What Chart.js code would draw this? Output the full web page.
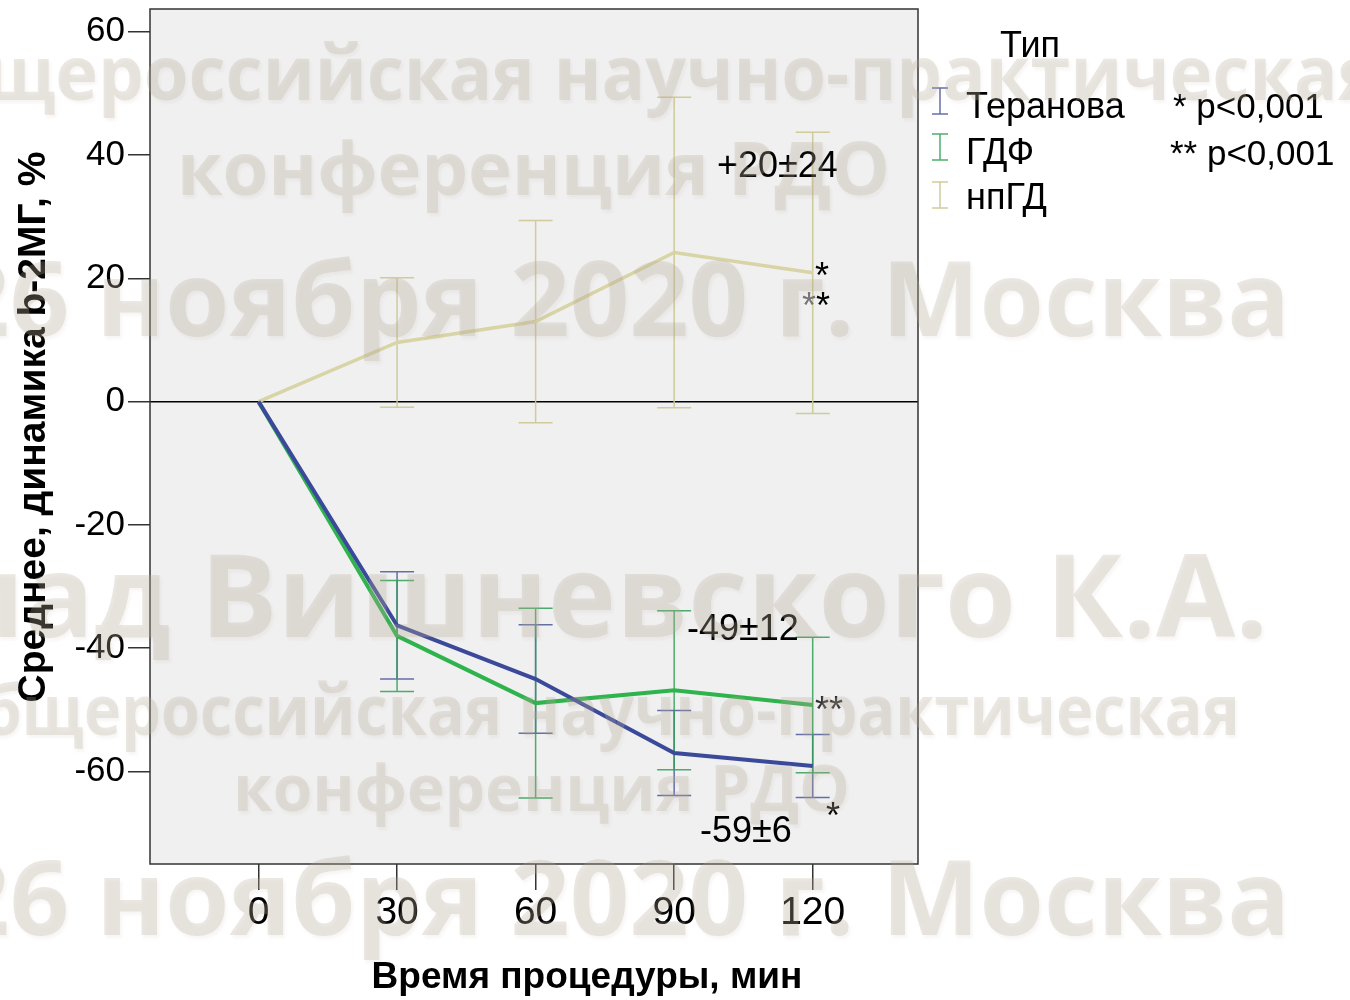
<!DOCTYPE html>
<html><head><meta charset="utf-8">
<script src="https://cdn.jsdelivr.net/npm/chart.js@4.4.1/dist/chart.umd.min.js"></script>
<style>
html,body{margin:0;padding:0;background:#fff;}
#wrap{position:relative;width:1350px;height:1000px;overflow:hidden;background:#fff;}
canvas{position:absolute;left:0;top:0;}
.wm{position:absolute;white-space:nowrap;font-family:'Open Sans','Noto Sans',sans-serif;font-weight:700;color:rgba(182,170,152,0.27);line-height:1;pointer-events:none;text-shadow:2px 3px 3px rgba(160,140,130,0.08);}
</style></head>
<body>
<div id="wrap">
<canvas id="c" width="1350" height="1000"></canvas>
<div class="wm" style="font-size:76px;right:-30px;top:33px;transform:scaleX(0.95);transform-origin:right center;">Общероссийская научно-практическая</div>
<div class="wm" style="font-size:74px;right:460px;top:130px;">конференция РДО</div>
<div class="wm" style="font-size:104px;right:60px;top:244px;">26 ноября 2020 г. Москва</div>
<div class="wm" style="font-size:115px;right:82px;top:535px;">Доклад Вишневского К.А.</div>
<div class="wm" style="font-size:70px;right:110px;top:673px;transform:scaleX(0.9);transform-origin:right center;">Общероссийская научно-практическая</div>
<div class="wm" style="font-size:64px;right:500px;top:755px;">конференция РДО</div>
<div class="wm" style="font-size:104px;right:60px;top:843px;">26 ноября 2020 г. Москва</div>
</div>
<script>
const timePoints = [0, 30, 60, 90, 120];
const seriesNames = ['Теранова', 'ГДФ', 'нпГД'];
const teranovaMean = [0, -36.3, -45.0, -57.0, -59.1];
const teranovaErr  = [0, 8.7, 8.8, 6.9, 5.1];
const gdfMean      = [0, -38.0, -48.9, -46.8, -49.2];
const gdfErr       = [0, 9.0, 15.4, 12.9, 11.0];
const npgdMean     = [0, 9.6, 13.0, 24.2, 20.9];
const npgdErr      = [0, 10.5, 16.4, 25.2, 22.8];
const xTickValues  = [0, 30, 60, 90, 120];
const yTickValues  = [-60, -40, -20, 0, 20, 40, 60];
const legendTitle  = 'Тип';
const pNotes       = ['* p<0,001', '** p<0,001'];
const xTitle       = 'Время процедуры, мин';
const yTitle       = 'Среднее, динамика b-2МГ, %';

const lineColors = ['#3b499b', '#2fb34c', '#d8d4a6'];
const barColors  = ['rgba(84,96,160,0.9)', 'rgba(46,160,84,0.85)', 'rgba(206,200,150,0.95)'];
const means = [teranovaMean, gdfMean, npgdMean];
const errs  = [teranovaErr, gdfErr, npgdErr];

const datasets = seriesNames.map((name, k) => ({
  label: name,
  data: timePoints.map((t, i) => ({x: t, y: means[k][i]})),
  borderColor: lineColors[k],
  backgroundColor: lineColors[k],
  borderWidth: k === 2 ? 3.5 : 4,
  pointRadius: 0,
  tension: 0,
  fill: false,
  errors: errs[k]
}));

const FONT = 'Arial, "Liberation Sans", sans-serif';

const decor = {
  id: 'decor',
  beforeDraw(chart) {
    const {ctx, chartArea: a} = chart;
    ctx.save();
    ctx.fillStyle = '#f0f0f0';
    ctx.fillRect(a.left, a.top, a.right - a.left, a.bottom - a.top);
    ctx.restore();
  },
  beforeDatasetsDraw(chart) {
    const {ctx, chartArea: a, scales: {x, y}} = chart;
    ctx.save();
    const y0 = y.getPixelForValue(0);
    ctx.strokeStyle = '#000';
    ctx.lineWidth = 1.5;
    ctx.beginPath(); ctx.moveTo(a.left, y0); ctx.lineTo(a.right, y0); ctx.stroke();
    chart.data.datasets.forEach((ds, k) => {
      ctx.strokeStyle = barColors[k];
      ctx.lineWidth = 1.5;
      ds.data.forEach((p, i) => {
        const e = ds.errors[i];
        if (!e) return;
        const px = x.getPixelForValue(p.x);
        const yt = y.getPixelForValue(p.y + e);
        const yb = y.getPixelForValue(p.y - e);
        ctx.beginPath();
        ctx.moveTo(px, yt); ctx.lineTo(px, yb);
        ctx.moveTo(px - 17, yt); ctx.lineTo(px + 17, yt);
        ctx.moveTo(px - 17, yb); ctx.lineTo(px + 17, yb);
        ctx.stroke();
      });
    });
    ctx.restore();
  },
  afterDraw(chart) {
    const {ctx, chartArea: a} = chart;
    ctx.save();
    ctx.strokeStyle = '#333';
    ctx.lineWidth = 1.5;
    ctx.strokeRect(a.left, a.top, a.right - a.left, a.bottom - a.top);

    ctx.fillStyle = '#000';
    ctx.textBaseline = 'alphabetic';
    ctx.textAlign = 'left';
    ctx.font = '36px ' + FONT;
    ctx.fillText('+20±24', 717, 177);
    ctx.fillText('-49±12', 687, 640);
    ctx.fillText('-59±6', 700, 842);
    ctx.fillText('*', 815, 288);
    ctx.fillStyle = '#777'; ctx.fillText('*', 802, 318);
    ctx.fillStyle = '#000'; ctx.fillText('*', 802 + ctx.measureText('*').width, 318);
    ctx.fillStyle = '#333'; ctx.fillText('**', 815, 722);
    ctx.fillStyle = '#000'; ctx.fillText('*', 826, 828);

    ctx.font = '36px ' + FONT;
    ctx.fillText(legendTitle, 1000, 57);
    const legY = [118, 164, 209];
    const markTop = [88, 134, 182];
    seriesNames.forEach((n, k) => {
      ctx.fillStyle = '#000';
      ctx.fillText(n, 966, legY[k]);
      ctx.strokeStyle = barColors[k];
      ctx.lineWidth = 1.5;
      const cx = 940, t = markTop[k], b = markTop[k] + 26;
      ctx.beginPath();
      ctx.moveTo(cx, t); ctx.lineTo(cx, b);
      ctx.moveTo(cx - 8, t); ctx.lineTo(cx + 8, t);
      ctx.moveTo(cx - 8, b); ctx.lineTo(cx + 8, b);
      ctx.stroke();
    });
    ctx.fillStyle = '#000';
    ctx.font = '35px ' + FONT;
    ctx.fillText(pNotes[0], 1173, 118);
    ctx.fillText(pNotes[1], 1170, 165);

    ctx.font = 'bold 37px ' + FONT;
    ctx.textAlign = 'center';
    ctx.fillText(xTitle, 587, 988);
    ctx.translate(45, 427);
    ctx.rotate(-Math.PI / 2);
    ctx.font = 'bold 39px ' + FONT;
    ctx.fillText(yTitle, 0, 0);
    ctx.restore();
  }
};

new Chart(document.getElementById('c'), {
  type: 'line',
  data: {datasets},
  options: {
    responsive: false,
    animation: false,
    devicePixelRatio: 1,
    layout: {padding: {top: 9, right: 432, left: 0, bottom: 0}},
    plugins: {legend: {display: false}, tooltip: {enabled: false}},
    scales: {
      x: {
        type: 'linear', min: -23.5, max: 142.8,
        afterBuildTicks: s => { s.ticks = xTickValues.map(v => ({value: v})); },
        afterFit: s => { s.height = 136; s.paddingLeft = 0; s.paddingRight = 0; },
        grid: {drawOnChartArea: false, drawTicks: true, tickLength: 26, color: '#333', lineWidth: 1.5},
        border: {display: false},
        ticks: {color: '#000', font: {family: FONT, size: 39}, padding: 0, maxRotation: 0}
      },
      y: {
        type: 'linear', min: -75, max: 63.7,
        afterBuildTicks: s => { s.ticks = yTickValues.map(v => ({value: v})); },
        afterFit: s => { s.width = 150; s.paddingTop = 0; s.paddingBottom = 0; },
        grid: {drawOnChartArea: false, drawTicks: true, tickLength: 22, color: '#333', lineWidth: 1.5},
        border: {display: false},
        ticks: {color: '#000', font: {family: FONT, size: 35}, padding: 3}
      }
    }
  },
  plugins: [decor]
});
</script>
</body></html>
